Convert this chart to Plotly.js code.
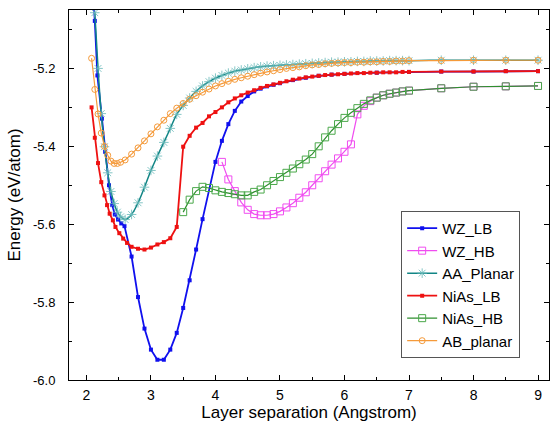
<!DOCTYPE html>
<html>
<head>
<meta charset="utf-8">
<script src="https://cdn.plot.ly/plotly-3.0.1.min.js"></script>
<style>html,body{margin:0;padding:0;background:#fff;}#chart{width:550px;height:422px;}</style>
</head>
<body>
<div id="chart"></div>
<script>
// ---- data ----
const seriesNames = ['WZ_LB', 'WZ_HB', 'AA_Planar', 'NiAs_LB', 'NiAs_HB', 'AB_planar'];

const wzLbX = [2.10, 2.13, 2.17, 2.24, 2.29, 2.35, 2.40, 2.44, 2.49, 2.54, 2.59,
  2.7, 2.8, 2.9, 3.0, 3.1, 3.2, 3.3, 3.4, 3.5, 3.6, 3.7, 3.8,
  4.0, 4.1, 4.2, 4.3, 4.4, 4.5, 4.6, 4.7, 4.8, 4.9, 5.0,
  5.2, 5.4, 5.6, 5.8, 6.0, 6.5, 7.0, 7.5, 8.0, 8.5, 9.0];
const wzLbY = [-5.000, -5.078, -5.218, -5.329, -5.414, -5.500, -5.551, -5.575, -5.588, -5.598, -5.605,
  -5.683, -5.787, -5.868, -5.922, -5.948, -5.948, -5.922, -5.879, -5.815, -5.744, -5.665, -5.587,
  -5.440, -5.386, -5.343, -5.309, -5.285, -5.271, -5.259, -5.252, -5.246, -5.242, -5.238,
  -5.230, -5.224, -5.219, -5.216, -5.214, -5.211, -5.209, -5.208, -5.208, -5.207, -5.207];

const wzHbX = [4.1, 4.2, 4.3, 4.4, 4.5, 4.6, 4.7, 4.8, 4.9, 5.0, 5.1, 5.2, 5.3, 5.4, 5.5,
  5.6, 5.7, 5.8, 5.9, 6.0, 6.1, 6.2, 6.3, 6.4, 6.5, 6.6, 6.7, 6.8, 6.9, 7.0, 7.5, 8.0, 8.5, 9.0];
const wzHbY = [-5.440, -5.485, -5.515, -5.544, -5.563, -5.574, -5.577, -5.577, -5.574, -5.567, -5.557, -5.546, -5.532, -5.518, -5.500,
  -5.482, -5.464, -5.447, -5.431, -5.414, -5.395, -5.318, -5.296, -5.284, -5.275, -5.269, -5.265, -5.262, -5.259, -5.257, -5.251, -5.247, -5.246, -5.245];

const aaX = [2.13, 2.18, 2.23, 2.28, 2.33, 2.38, 2.43, 2.48, 2.53,
  2.6, 2.7, 2.8, 2.9, 3.0, 3.1, 3.2, 3.3, 3.4, 3.5, 3.6, 3.7, 3.8, 3.9,
  4.0, 4.1, 4.2, 4.3, 4.4, 4.5, 4.6, 4.7, 4.8, 4.9, 5.0, 5.1, 5.2, 5.3, 5.4,
  5.5, 5.6, 5.7, 5.8, 5.9, 6.0, 6.1, 6.2, 6.3, 6.4, 6.5, 6.6, 6.7, 6.8, 6.9, 7.0,
  7.5, 8.0, 8.5, 9.0];
const aaY = [-5.057, -5.200, -5.316, -5.401, -5.468, -5.516, -5.547, -5.569, -5.581,
  -5.588, -5.575, -5.545, -5.505, -5.462, -5.425, -5.390, -5.354, -5.318, -5.295, -5.276, -5.259, -5.245, -5.234,
  -5.225, -5.218, -5.212, -5.207, -5.204, -5.201, -5.198, -5.196, -5.194, -5.193, -5.192, -5.191, -5.190, -5.189, -5.188,
  -5.187, -5.186, -5.185, -5.184, -5.184, -5.183, -5.183, -5.182, -5.182, -5.181, -5.181, -5.181, -5.180, -5.180, -5.180, -5.180,
  -5.179, -5.179, -5.179, -5.179];

const niasLbX = [2.08, 2.13, 2.18, 2.23, 2.28, 2.32, 2.36, 2.41, 2.45, 2.51, 2.57, 2.63,
  2.7, 2.8, 2.9, 3.0, 3.1, 3.2, 3.3, 3.4,
  3.5, 3.6, 3.7, 3.8, 3.9, 4.0, 4.1, 4.2, 4.3, 4.4, 4.5, 4.6, 4.7, 4.8, 4.9,
  5.0, 5.1, 5.2, 5.3, 5.4, 5.5, 5.6, 5.7, 5.8, 5.9, 6.0, 6.1, 6.2, 6.3, 6.4,
  6.5, 6.6, 6.7, 6.8, 6.9, 7.0, 7.5, 8.0, 8.5, 9.0];
const niasLbY = [-5.300, -5.378, -5.443, -5.492, -5.526, -5.551, -5.573, -5.590, -5.607, -5.623, -5.637, -5.648,
  -5.658, -5.663, -5.665, -5.660, -5.652, -5.646, -5.636, -5.607,
  -5.401, -5.373, -5.352, -5.340, -5.323, -5.312, -5.300, -5.287, -5.277, -5.269, -5.262, -5.256, -5.250, -5.245, -5.241,
  -5.237, -5.233, -5.229, -5.226, -5.223, -5.221, -5.219, -5.217, -5.216, -5.215, -5.214, -5.213, -5.212, -5.212, -5.211,
  -5.211, -5.210, -5.210, -5.210, -5.209, -5.209, -5.208, -5.208, -5.207, -5.207];

const niasHbX = [3.5, 3.6, 3.7, 3.8, 3.9, 4.0, 4.1, 4.2, 4.3, 4.4, 4.5, 4.6, 4.7, 4.8, 4.9,
  5.0, 5.1, 5.2, 5.3, 5.4, 5.5, 5.6, 5.7, 5.8, 5.9, 6.0, 6.1, 6.2, 6.3, 6.4,
  6.5, 6.6, 6.7, 6.8, 6.9, 7.0, 7.5, 8.0, 8.5, 9.0];
const niasHbY = [-5.569, -5.537, -5.515, -5.504, -5.507, -5.513, -5.517, -5.520, -5.523, -5.526, -5.526, -5.517, -5.511, -5.500, -5.489,
  -5.479, -5.468, -5.457, -5.446, -5.434, -5.420, -5.400, -5.377, -5.360, -5.343, -5.327, -5.314, -5.302, -5.291, -5.282,
  -5.275, -5.269, -5.265, -5.262, -5.259, -5.257, -5.251, -5.247, -5.246, -5.245];

const abX = [2.08, 2.13, 2.18, 2.23, 2.28, 2.33, 2.38, 2.43, 2.48, 2.53,
  2.6, 2.7, 2.8, 2.9, 3.0, 3.1, 3.2, 3.3, 3.4, 3.5, 3.6, 3.7, 3.8, 3.9,
  4.0, 4.1, 4.2, 4.3, 4.4, 4.5, 4.6, 4.7, 4.8, 4.9, 5.0, 5.1, 5.2, 5.3, 5.4,
  5.5, 5.6, 5.7, 5.8, 5.9, 6.0, 6.1, 6.2, 6.3, 6.4, 6.5, 6.6, 6.7, 6.8, 6.9, 7.0,
  7.5, 8.0, 8.5, 9.0];
const abY = [-5.174, -5.254, -5.317, -5.366, -5.400, -5.423, -5.438, -5.444, -5.444, -5.441,
  -5.435, -5.420, -5.404, -5.386, -5.368, -5.350, -5.333, -5.316, -5.302, -5.290, -5.279, -5.270, -5.261, -5.253,
  -5.245, -5.239, -5.233, -5.228, -5.224, -5.220, -5.216, -5.212, -5.209, -5.206, -5.203, -5.200, -5.198, -5.196, -5.193,
  -5.191, -5.190, -5.188, -5.187, -5.186, -5.185, -5.185, -5.184, -5.184, -5.183, -5.183, -5.182, -5.182, -5.181, -5.181, -5.180,
  -5.180, -5.179, -5.179, -5.179];

const xTickVals = [2, 3, 4, 5, 6, 7, 8, 9];
const xTickText = ['2', '3', '4', '5', '6', '7', '8', '9'];
const yTickVals = [-6.0, -5.8, -5.6, -5.4, -5.2];
const yTickText = ['-6.0', '-5.8', '-5.6', '-5.4', '-5.2'];

// ---- chart ----
const FONT = 'Arial, "Liberation Sans", sans-serif';
const traces = [
  {x: wzLbX, y: wzLbY, name: seriesNames[0], mode: 'lines+markers',
   line: {color: '#1010ee', width: 1.8},
   marker: {symbol: 'square', size: 4, color: '#1010ee'}},
  {x: wzHbX, y: wzHbY, name: seriesNames[1], mode: 'lines+markers',
   line: {color: '#f04cf0', width: 1.2},
   marker: {symbol: 'square-open', size: 7, color: '#f04cf0', line: {width: 1}}},
  {x: aaX, y: aaY, name: seriesNames[2], mode: 'lines+markers',
   line: {color: '#118585', width: 1.5, shape: 'spline'},
   marker: {symbol: 'asterisk-open', size: 8, color: '#66b8b8', line: {width: 0.8, color: '#66b8b8'}}},
  {x: niasLbX, y: niasLbY, name: seriesNames[3], mode: 'lines+markers',
   line: {color: '#ee1111', width: 1.8},
   marker: {symbol: 'square', size: 4, color: '#ee1111'}},
  {x: niasHbX, y: niasHbY, name: seriesNames[4], mode: 'lines+markers',
   line: {color: '#2f8f2f', width: 1.2},
   marker: {symbol: 'square-open', size: 7, color: '#4aa84a', line: {width: 1}}},
  {x: abX, y: abY, name: seriesNames[5], mode: 'lines+markers',
   line: {color: '#f59a3a', width: 1.2},
   marker: {symbol: 'circle-open', size: 6, color: '#f59a3a', line: {width: 1}}}
];

const axisCommon = {
  showline: true, linecolor: '#000', linewidth: 1, mirror: 'allticks',
  ticks: 'inside', ticklen: 5, tickwidth: 1, tickcolor: '#000',
  showgrid: false, zeroline: false,
  tickfont: {family: FONT, size: 13, color: '#000'}
};

const layout = {
  width: 550, height: 422,
  margin: {l: 69, r: 1, t: 10, b: 42},
  paper_bgcolor: '#fff', plot_bgcolor: '#fff',
  font: {family: FONT, color: '#000'},
  showlegend: true,
  xaxis: Object.assign({}, axisCommon, {
    range: [1.73, 9.17], tickmode: 'array', tickvals: xTickVals, ticktext: xTickText,
    minor: {ticks: 'inside', dtick: 0.5, tick0: 2, ticklen: 3, tickcolor: '#000', showgrid: false},
    ticklabelstandoff: 2,
    tickfont: {family: FONT, size: 14, color: '#000'},
    title: {text: 'Layer separation (Angstrom)', font: {family: FONT, size: 17, color: '#000'}, standoff: 2}
  }),
  yaxis: Object.assign({}, axisCommon, {
    range: [-6.0, -5.05], tickmode: 'array', tickvals: yTickVals, ticktext: yTickText,
    minor: {ticks: 'inside', dtick: 0.1, tick0: -6, ticklen: 3, tickcolor: '#000', showgrid: false},
    ticklabelstandoff: 10,
    title: {text: 'Energy (eV/atom)', font: {family: FONT, size: 17, color: '#000'}, standoff: 8}
  }),
  legend: {
    x: 0.692, y: 0.457, xanchor: 'left', yanchor: 'top',
    bgcolor: '#fff', bordercolor: '#555', borderwidth: 1,
    font: {family: FONT, size: 15, color: '#000'},
    tracegroupgap: 0, itemwidth: 30
  }
};

Plotly.newPlot('chart', traces, layout, {displayModeBar: false, staticPlot: true});
</script>
</body>
</html>
